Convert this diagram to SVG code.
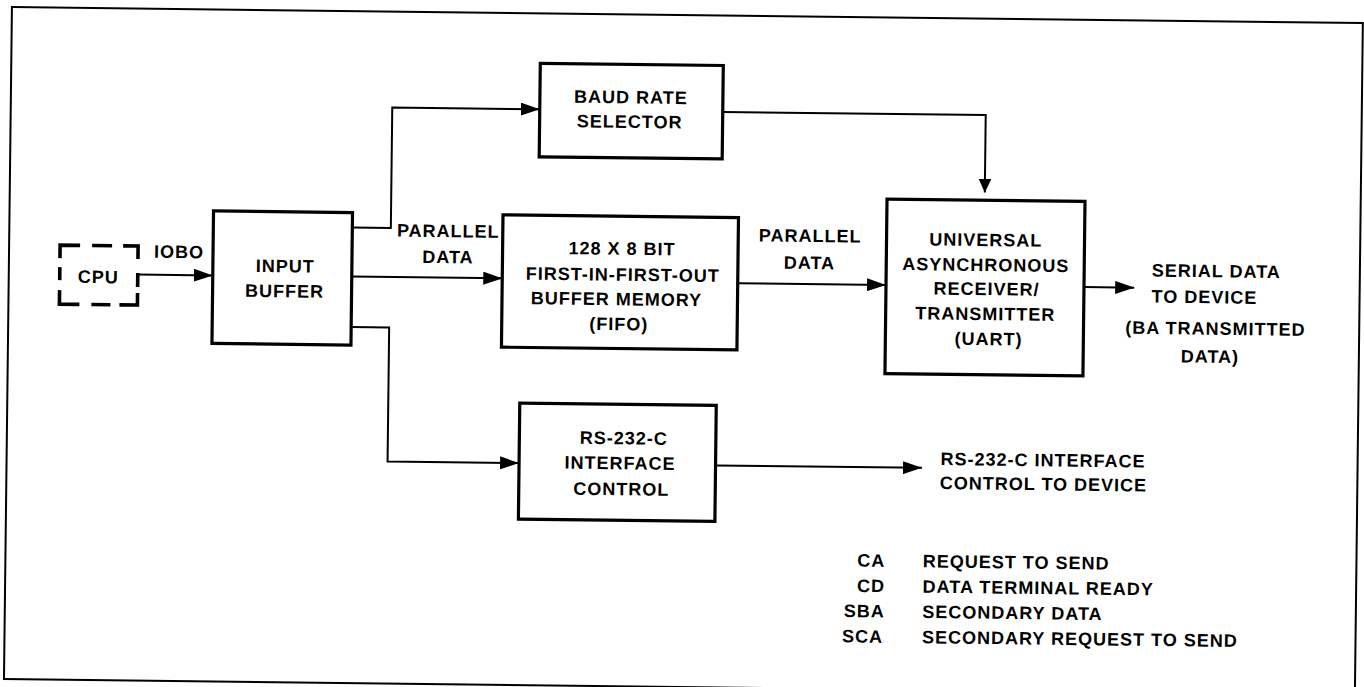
<svg xmlns="http://www.w3.org/2000/svg" width="1364" height="687" viewBox="0 0 1364 687">
  <style>
    .box { fill: none; stroke: #000; stroke-width: 3.2; }
    .frame { fill: none; stroke: #000; stroke-width: 2; }
    .dash { fill: none; stroke: #000; stroke-width: 3.6; stroke-linecap: butt; stroke-linejoin: miter; }
    .wire { fill: none; stroke: #000; stroke-width: 2; }
    .arr { marker-end: url(#ah); }
    .arrs { marker-end: url(#ahs); }
    text { font-family: "Liberation Sans", Arial, sans-serif; font-weight: bold; font-size: 18px; letter-spacing: 1px; fill: #000; }
    .c { text-anchor: middle; }
    .e { text-anchor: end; }
  </style>
  <defs>
    <marker id="ah" viewBox="0 0 19 13" refX="19" refY="6.5" markerWidth="19" markerHeight="13" markerUnits="userSpaceOnUse" orient="auto">
      <path d="M0,0 L19,6.5 L0,13 Z" fill="#000"/>
    </marker>
    <marker id="ahs" viewBox="0 0 14 13" refX="14" refY="6.5" markerWidth="14" markerHeight="13" markerUnits="userSpaceOnUse" orient="auto">
      <path d="M0,0 L14,6.5 L0,13 Z" fill="#000"/>
    </marker>
  </defs>
  <rect width="1364" height="687" fill="#fff"/>
  <g transform="rotate(0.679 682 343)">
    <rect id="frame" class="frame" x="8" y="15" width="1351" height="672"/>

    <g id="cpu">
      <path class="dash" d="M59,265.5 V252.5 H79 M91,252.5 H111 M122,252.5 H137 V265.5 M137,279.5 V293.5 M137,299.5 V311.5 H119 M110,311.5 H91 M79,311.5 H59 V297.5 M59,287.5 V274.5"/>
      <text class="c" x="97.5" y="290">CPU</text>
    </g>

    <g id="input-buffer">
      <rect class="box" x="212" y="216.5" width="139" height="132.5"/>
      <text class="c" x="284.5" y="277">INPUT</text>
      <text class="c" x="284" y="302">BUFFER</text>
    </g>

    <g id="baud-rate-selector">
      <rect class="box" x="537" y="65" width="183" height="93.5"/>
      <text class="c" x="628" y="104">BAUD RATE</text>
      <text class="c" x="627" y="128.5">SELECTOR</text>
    </g>

    <g id="fifo">
      <rect class="box" x="501.5" y="217" width="235.5" height="132.3"/>
      <text class="c" x="621" y="255.5">128 X 8 BIT</text>
      <text class="c" x="622" y="281.5">FIRST-IN-FIRST-OUT</text>
      <text class="c" x="616" y="306">BUFFER MEMORY</text>
      <text class="c" x="618.5" y="331">(FIFO)</text>
    </g>

    <g id="uart">
      <rect class="box" x="885.3" y="196.6" width="198" height="174.6"/>
      <text class="c" x="984.5" y="242.5">UNIVERSAL</text>
      <text class="c" x="985" y="267.5">ASYNCHRONOUS</text>
      <text class="c" x="986" y="291.5">RECEIVER/</text>
      <text class="c" x="985" y="316.5">TRANSMITTER</text>
      <text class="c" x="988.5" y="341.5">(UART)</text>
    </g>

    <g id="rs232-control">
      <rect class="box" x="520.5" y="405" width="196.5" height="116"/>
      <text class="c" x="625" y="445">RS-232-C</text>
      <text class="c" x="621.5" y="470">INTERFACE</text>
      <text class="c" x="623" y="496">CONTROL</text>
    </g>

    <g id="serial-output">
      <text x="1151" y="271">SERIAL DATA</text>
      <text x="1151" y="297">TO DEVICE</text>
      <text x="1125" y="328.5">(BA TRANSMITTED</text>
      <text x="1181" y="356.5">DATA)</text>
    </g>

    <g id="rs232-output">
      <text x="942" y="462">RS-232-C INTERFACE</text>
      <text x="941.5" y="486">CONTROL TO DEVICE</text>
    </g>

    <g id="connectors">
      <path class="wire arr" d="M137,281 H212"/>
      <path class="wire arr" d="M351,231.5 H389.5 V111 H537"/>
      <path class="wire arr" d="M351,280.5 H501.5"/>
      <path class="wire arr" d="M351,331 H389 V465 H520.5"/>
      <path class="wire arrs" d="M720,111.5 H983 V189"/>
      <path class="wire arr" d="M737,282.5 H885.3"/>
      <path class="wire arr" d="M1083.3,282.3 H1133.5"/>
      <path class="wire arr" d="M717,465 H923.5"/>
    </g>

    <g id="connector-labels">
      <text x="153" y="264">IOBO</text>
      <text class="c" x="447" y="240">PARALLEL</text>
      <text class="c" x="447" y="266">DATA</text>
      <text class="c" x="809" y="240.5">PARALLEL</text>
      <text class="c" x="808.5" y="267.5">DATA</text>
    </g>

    <g id="legend">
      <text class="e" x="888" y="564.5">CA</text>
      <text x="925.5" y="564.5">REQUEST TO SEND</text>
      <text class="e" x="888" y="589.8">CD</text>
      <text x="925.5" y="589.8">DATA TERMINAL READY</text>
      <text class="e" x="888" y="615.1">SBA</text>
      <text x="925.5" y="615.1">SECONDARY DATA</text>
      <text class="e" x="886.5" y="640.4">SCA</text>
      <text x="925.5" y="640.4">SECONDARY REQUEST TO SEND</text>
    </g>
  </g>
</svg>
